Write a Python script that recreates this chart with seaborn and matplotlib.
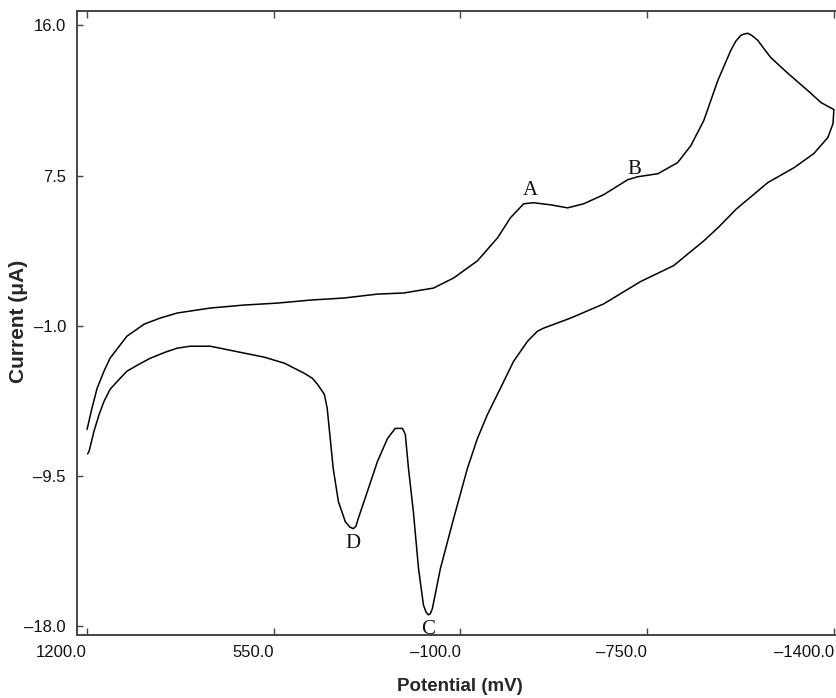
"""
plot.py
Cyclic voltammogram: current vs potential with peaks A-D.
"""

import matplotlib
matplotlib.use("Agg")
import matplotlib.pyplot as plt
import pandas as pd
import seaborn as sns

# forward scan (1200 -> -1400 mV)
upper_mv = [1200, 1183, 1165, 1141, 1120, 1088, 1061, 1001, 946, 886, 771, 653,
            538, 423, 304, 189, 99, -6, -76, -159, -229, -274, -320, -354, -414,
            -473, -529, -598, -682, -717, -787, -856, -902, -947, -996, -1017,
            -1041, -1058, -1076, -1086, -1100, -1114, -1135, -1156, -1180, -1240,
            -1309, -1355, -1400]
upper_ua = [-6.87, -5.67, -4.54, -3.57, -2.84, -2.16, -1.59, -0.91, -0.57, -0.28,
            0.0, 0.17, 0.28, 0.45, 0.57, 0.79, 0.85, 1.13, 1.70, 2.67, 3.97, 5.11,
            5.90, 5.96, 5.84, 5.67, 5.90, 6.41, 7.26, 7.43, 7.60, 8.23, 9.19,
            10.61, 12.88, 13.67, 14.58, 15.09, 15.43, 15.50, 15.55, 15.43, 15.15,
            14.69, 14.18, 13.28, 12.31, 11.63, 11.23]

# reverse scan (-1400 -> 1200 mV)
lower_mv = [-1397, -1379, -1330, -1261, -1170, -1060, -1000, -947, -842, -727,
            -598, -483, -389, -368, -334, -285, -239, -194, -159, -124, -76, -30,
            -2, 5, 12, 20, 29, 46, 64, 81, 92, 102, 127, 154, 189, 224, 256, 264,
            273, 285, 301, 325, 343, 364, 374, 398, 416, 444, 513, 583, 653, 771,
            841, 886, 928, 980, 1019, 1061, 1088, 1120, 1141, 1158, 1176, 1193,
            1198]
lower_ua = [10.44, 9.65, 8.74, 7.94, 7.10, 5.60, 4.60, 3.80, 2.40, 1.50, 0.23,
            -0.57, -1.14, -1.31, -1.87, -3.01, -4.54, -6.02, -7.38, -9.08, -11.92,
            -14.75, -17.02, -17.30, -17.36, -17.20, -16.80, -14.75, -11.52, -9.08,
            -7.15, -6.81, -6.81, -7.38, -8.68, -10.38, -11.92, -12.35, -12.48,
            -12.40, -12.09, -10.95, -9.08, -5.67, -4.88, -4.31, -3.97, -3.69,
            -3.12, -2.78, -2.55, -2.16, -2.16, -2.27, -2.50, -2.84, -3.18, -3.57,
            -4.03, -4.60, -5.28, -6.02, -6.98, -8.11, -8.25]

peak_labels = ["A", "B", "C", "D"]
peak_mv = [-342, -706, 12, 273]
peak_ua = [6.65, 7.85, -18.2, -13.3]

x_ticks = [1200.0, 550.0, -100.0, -750.0, -1400.0]
y_ticks = [16.0, 7.5, -1.0, -9.5, -18.0]

df = pd.DataFrame({
    "Potential": upper_mv + lower_mv,
    "Current": upper_ua + lower_ua,
})

sns.set_style("ticks")
plt.rcParams["font.family"] = ["Liberation Sans", "DejaVu Sans"]

fig = plt.figure(figsize=(8.37, 6.98), dpi=100)
ax = fig.add_axes([0.092, 0.0903, 0.906, 0.8937])

sns.lineplot(data=df, x="Potential", y="Current", sort=False, estimator=None,
             color="black", linewidth=1.1, ax=ax)

for lab, xv, yv in zip(peak_labels, peak_mv, peak_ua):
    ax.text(xv, yv, lab, ha="center", va="center", fontsize=15,
            family=["Liberation Serif", "DejaVu Serif"], color="#111111")

ax.set_xlim(1235, -1405)
ax.set_ylim(-18.5, 16.8)
ax.set_xticks(x_ticks)
ax.set_xticklabels([f"{v:.1f}".replace("-", "\u2013") for v in x_ticks], ha="right")
ax.set_yticks(y_ticks)
ax.set_yticklabels([f"{v:.1f}".replace("-", "\u2013") for v in y_ticks])

ax.tick_params(axis="x", direction="in", top=True, length=5, width=1,
               labelsize=12, pad=7, colors="#444444", labelcolor="#111111")
ax.tick_params(axis="y", direction="in", length=4, width=1,
               labelsize=12, pad=8, colors="#444444", labelcolor="#111111")

for side in ["left", "bottom", "top"]:
    ax.spines[side].set_color("#444444")
    ax.spines[side].set_linewidth(1.4)
ax.spines["right"].set_visible(False)

ax.set_xlabel("Potential (mV)", fontsize=13.5, fontweight="bold")
ax.set_ylabel("Current (\u03bcA)", fontsize=15, fontweight="bold")
ax.xaxis.set_label_coords((460 - 77) / 758, -(687 - 635) / 624)
ax.yaxis.set_label_coords(-(77 - 19) / 758, (635 - 321) / 624)
ax.xaxis.label.set_va("center")
ax.yaxis.label.set_va("center")

fig.savefig("out.png", dpi=100)
